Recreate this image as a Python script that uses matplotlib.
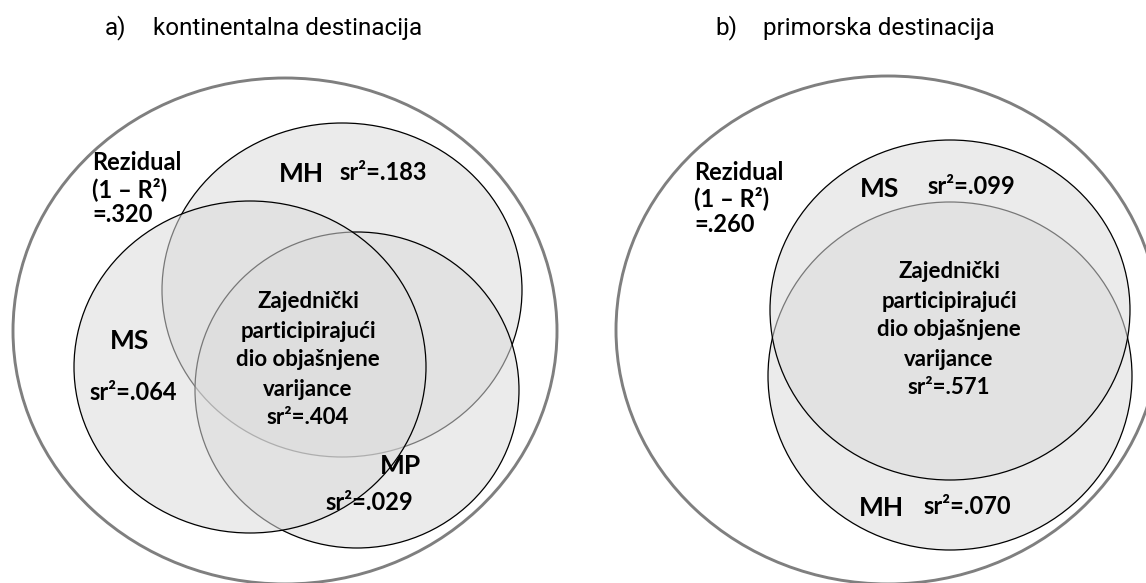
import matplotlib
matplotlib.use("Agg")
import matplotlib.pyplot as plt
from matplotlib.patches import Ellipse

# ---------------------------------------------------------------------------
# data
panel_titles = ["a)", "b)"]
panel_names = ["kontinentalna destinacija", "primorska destinacija"]
residuals = [".320", ".260"]
shared_sr2 = [".404", ".571"]

# a) kontinentalna: predictors and unique sr^2
predictors_a = ["MH", "MP", "MS"]
sr2_a = [".183", ".029", ".064"]
# b) primorska
predictors_b = ["MH", "MS"]
sr2_b = [".070", ".099"]

center_lines = ["Zajednički", "participirajući", "dio objašnjene", "varijance"]

# ---------------------------------------------------------------------------
# layout (pixel space of the 1146x583 picture)
W, H = 1146, 583
outer_a = (285, 331, 544, 506)
outer_b = (888, 330, 544, 508)
ell_a = {"MH": (342, 290, 360, 334), "MP": (357, 390, 324, 316),
         "MS": (250, 367, 352, 332)}
ell_b = {"MH": (950, 376, 364, 348), "MS": (950, 310, 360, 340)}

# label positions: (name x, name y, sr2 x, sr2 y)
lab_a = {"MH": (301, 174, 383, 173), "MP": (400, 466, 369, 503),
         "MS": (130, 341, 133, 393)}
lab_b = {"MH": (881, 508, 967, 506), "MS": (880, 189, 971, 187)}

fill_col = "#dbdbdb"
fill_alpha = 0.55
bold_font = ["Lato", "DejaVu Sans"]
title_font = ["Roboto", "DejaVu Sans"]

fig = plt.figure(figsize=(W / 100, H / 100), dpi=100)
ax = fig.add_axes([0, 0, 1, 1])
ax.set_xlim(0, W)
ax.set_ylim(H, 0)
ax.axis("off")


def draw_panel(outer, ells, order, labels, predictors, sr2, resid, shared,
               resid_xy, center_xy, title_xy, title, name):
    cx, cy, w, h = outer
    ax.add_patch(Ellipse((cx, cy), w, h, facecolor="none",
                         edgecolor="#7f7f7f", lw=2.1, zorder=5))
    for i, key in enumerate(order):
        ex, ey, ew, eh = ells[key]
        ax.add_patch(Ellipse((ex, ey), ew, eh, facecolor=fill_col,
                             alpha=fill_alpha, edgecolor="none", zorder=1 + i))
        ax.add_patch(Ellipse((ex, ey), ew, eh, facecolor="none",
                             edgecolor="black", lw=0.9, zorder=1.5 + i))

    for key, val in zip(predictors, sr2):
        nx, ny, sx, sy = labels[key]
        ax.text(nx, ny, key, ha="center", va="center", fontsize=19,
                fontweight="bold", family=bold_font, zorder=10)
        ax.text(sx, sy, "sr²=" + val, ha="center", va="center", fontsize=17,
                fontweight="bold", family=bold_font, zorder=10)

    rx, ry = resid_xy
    for j, line in enumerate(["Rezidual", "(1 – R²)", "=" + resid]):
        ax.text(rx, ry + 26 * j, line, ha="left", va="center", fontsize=17,
                fontweight="bold", family=bold_font, zorder=10)

    mx, my = center_xy
    for j, line in enumerate(center_lines + ["sr²=" + shared]):
        ax.text(mx, my + 29 * j, line, ha="center", va="center", fontsize=16,
                fontweight="bold", family=bold_font, zorder=10)

    tx, ty, nx2 = title_xy
    ax.text(tx, ty, title, ha="left", va="center", fontsize=17.5,
            family=title_font)
    ax.text(nx2, ty, name, ha="left", va="center", fontsize=17.5,
            family=title_font)


draw_panel(outer_a, ell_a, ["MH", "MP", "MS"], lab_a, predictors_a, sr2_a,
           residuals[0], shared_sr2[0], (92, 163), (308, 302),
           (105, 28, 153), panel_titles[0], panel_names[0])
draw_panel(outer_b, ell_b, ["MH", "MS"], lab_b, predictors_b, sr2_b,
           residuals[1], shared_sr2[1], (694, 172), (949, 272),
           (715, 28, 763), panel_titles[1], panel_names[1])

fig.savefig("out.png", dpi=100)
